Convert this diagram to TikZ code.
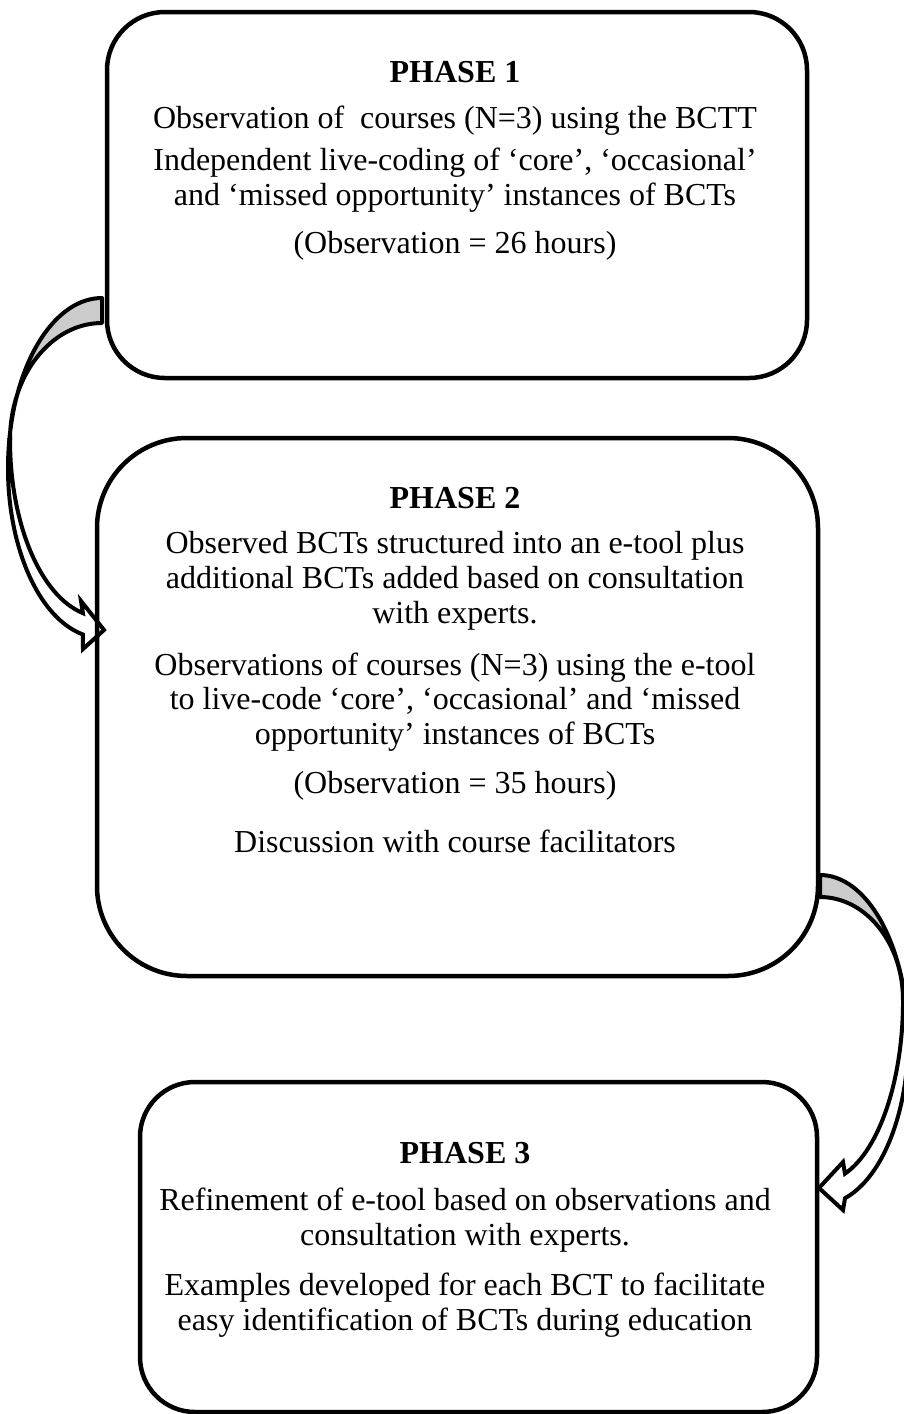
\documentclass[tikz,border=0pt]{standalone}
\usepackage{fontspec}
\setmainfont{Liberation Serif}
\begin{document}
\begin{tikzpicture}[x=1pt,y=1pt,
  phasebox/.style={draw=black, line width=4.5pt, rectangle, inner sep=0pt},
  txt/.style={font=\fontsize{32}{34.8}\selectfont, align=center, inner sep=0pt},
  hdr/.style={txt, font=\fontsize{32}{34.8}\selectfont\bfseries},
  bandpart/.style={draw=black, fill=black!20, line width=4pt, line join=round},
  bodypart/.style={draw=black, fill=white, line width=4pt, line join=miter}]
\useasboundingbox (0,0) rectangle (904,-1414);
\clip (0,0) rectangle (904,-1414);

% ---- curved block arrow: phase 1 -> phase 2 (left side)
\filldraw[bandpart] (102,-298) arc[start angle=90, end angle=170.5, x radius=94, y radius=170]
   -- (10,-440) arc[start angle=180, end angle=90, x radius=92, y radius=117] -- cycle;
\filldraw[bodypart] (9.3,-440) arc[start angle=170.5, end angle=258.3, x radius=94, y radius=170]
   -- (83,-649) -- (104,-630) -- (81,-601) -- (82.9,-613.1)
   arc[start angle=258, end angle=180, x radius=92, y radius=177] -- cycle;

% ---- curved block arrow: phase 2 -> phase 3 (right side)
\filldraw[bandpart] (820,-875) arc[start angle=90, end angle=14, x radius=88, y radius=165]
   -- (903,-1000) arc[start angle=0, end angle=90, x radius=83, y radius=103] -- cycle;
\filldraw[bodypart] (905.4,-1000.1) arc[start angle=14, end angle=-73.5, x radius=88, y radius=165]
   -- (843,-1210) -- (819,-1188) -- (843,-1162) -- (845,-1173.6)
   arc[start angle=-72.5, end angle=0, x radius=83, y radius=182] -- cycle;

% ---- boxes
\node[phasebox, rounded corners=58pt, minimum width=700pt, minimum height=366pt] (p1) at (457,-195) {};
\node[phasebox, rounded corners=90pt, minimum width=721pt, minimum height=538pt] (p2) at (457.5,-707) {};
\node[phasebox, rounded corners=55pt, minimum width=677pt, minimum height=330pt] (p3) at (478.5,-1247) {};

% ---- texts phase 1
\node[hdr] (h1) at (455,-72) {PHASE 1};
\node[txt] (t11) at (455,-121) {Observation of \ courses (N=3) using the BCTT};
\node[txt] (t12) at (455,-180) {Independent live-coding of ‘core’, ‘occasional’\\and ‘missed opportunity’ instances of BCTs};
\node[txt] (t13) at (455,-246) {(Observation = 26 hours)};

% ---- texts phase 2
\node[hdr] (h2) at (455,-498) {PHASE 2};
\node[txt] (t21) at (455,-581) {Observed BCTs structured into an e-tool plus\\additional BCTs added based on consultation\\with experts.};
\node[txt] (t22) at (455,-702) {Observations of courses (N=3) using the e-tool\\to live-code ‘core’, ‘occasional’ and ‘missed\\opportunity’ instances of BCTs};
\node[txt] (t23) at (455,-786) {(Observation = 35 hours)};
\node[txt] (t24) at (455,-841) {Discussion with course facilitators};

% ---- texts phase 3
\node[hdr] (h3) at (465,-1153) {PHASE 3};
\node[txt] (t31) at (465,-1220) {Refinement of e-tool based on observations and\\consultation with experts.};
\node[txt] (t32) at (465,-1305) {Examples developed for each BCT to facilitate\\easy identification of BCTs during education};
\end{tikzpicture}
\end{document}
